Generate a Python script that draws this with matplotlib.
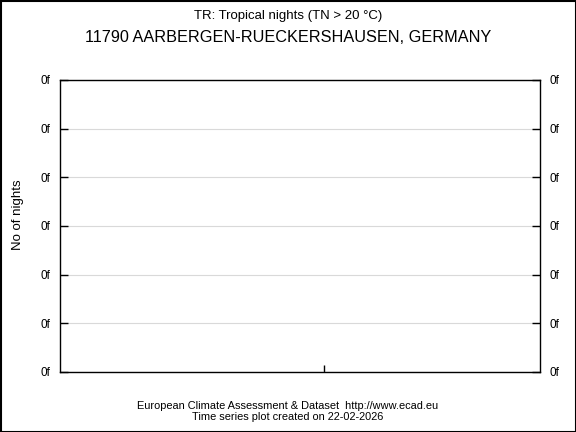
import matplotlib
matplotlib.use("Agg")
import matplotlib.pyplot as plt
from matplotlib.patches import Rectangle

plt.rcParams['font.family'] = ['Liberation Sans', 'DejaVu Sans']

title1 = "TR: Tropical nights (TN > 20 °C)"
title2 = "11790 AARBERGEN-RUECKERSHAUSEN, GERMANY"
ylabel = "No of nights"
footer1 = "European Climate Assessment & Dataset  http://www.ecad.eu"
footer2 = "Time series plot created on 22-02-2026"

y_ticks = [0, 1, 2, 3, 4, 5, 6]
y_labels = ["0f", "0f", "0f", "0f", "0f", "0f", "0f"]
x_range = [0, 2]
x_ticks = [1.1]

fig = plt.figure(figsize=(5.76, 4.32), dpi=100)
ax = fig.add_axes([60/576, 60/432, 480/576, 292/432])
ax.set_xlim(*x_range)
ax.set_ylim(y_ticks[0], y_ticks[-1])
ax.set_yticks(y_ticks)
ax.set_yticklabels(y_labels)
ax.set_xticks(x_ticks)
ax.set_xticklabels([])
ax.grid(axis='y', color='#d9d9d9', linewidth=0.8)
ax.set_axisbelow(True)
ax.tick_params(axis='y', direction='in', length=6, width=1, labelsize=8.5,
               left=True, right=True, labelleft=True, labelright=True, pad=7)
ax.tick_params(axis='x', direction='in', length=5, width=1)
for s in ax.spines.values():
    s.set_linewidth(1)

fig.text(18/576, 1 - 215/432, ylabel, ha='center', va='center', rotation=90, fontsize=9.5)
fig.text(0.5, 1 - 16/432, title1, ha='center', va='center', fontsize=9.5)
fig.text(0.5, 1 - 37/432, title2, ha='center', va='center', fontsize=11.7)
fig.text(0.5, 1 - 406/432, footer1, ha='center', va='center', fontsize=7.9)
fig.text(0.5, 1 - 417/432, footer2, ha='center', va='center', fontsize=7.9)

fig.patches.append(Rectangle((0.5/576, 0.5/432), 575/576, 431/432, transform=fig.transFigure,
                             fill=False, edgecolor='black', linewidth=1.5))

fig.savefig("out.png", dpi=100)
